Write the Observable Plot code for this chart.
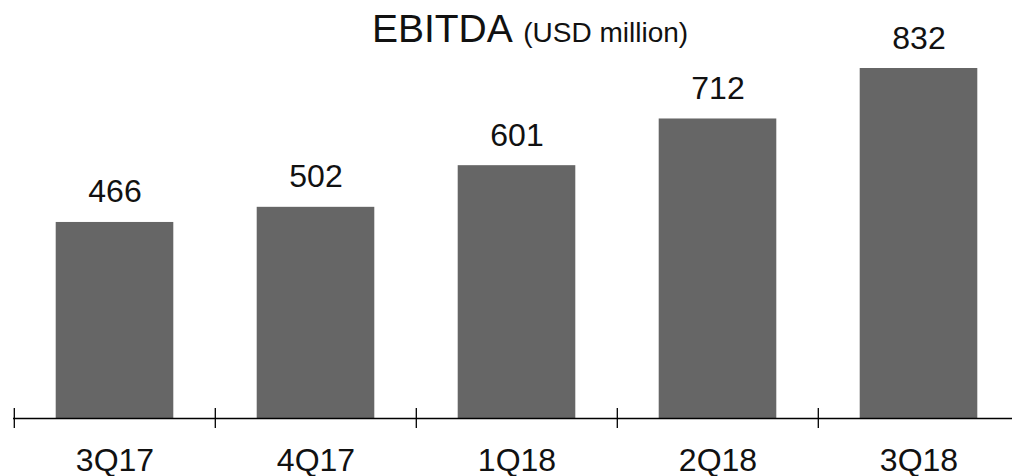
<!DOCTYPE html>
<html>
<head>
<meta charset="utf-8">
<script src="https://cdn.jsdelivr.net/npm/d3@7"></script>
<script src="https://cdn.jsdelivr.net/npm/@observablehq/plot@0.6"></script>
<style>
  html, body { margin: 0; padding: 0; background: #fff; }
  #wrap { position: relative; width: 1012px; height: 476px; font-family: "Liberation Sans", Arial, sans-serif; }
  #title { position: absolute; top: 9px; left: 0; width: 1012px; text-align: center; padding-left: 48px; box-sizing: border-box;
           line-height: 39px; color: #111; white-space: nowrap; }
  #title .main { font-size: 39px; }
  #title .sub { font-size: 28px; margin-left: 6px; }
  #chart { position: absolute; top: 0; left: 0; }
</style>
</head>
<body>
<div id="wrap">
  <div id="chart"></div>
  <div id="title"><span class="main">EBITDA</span> <span class="sub">(USD million)</span></div>
</div>
<script>
const quarters = ["3Q17", "4Q17", "1Q18", "2Q18", "3Q18"];
const ebitda = [466, 502, 601, 712, 832];

const data = quarters.map((q, i) => ({quarter: q, value: ebitda[i]}));

const xRange = [13, 1020];
const step = (xRange[1] - xRange[0]) / quarters.length;
const barWidth = 118;
const inset = (step - barWidth) / 2;

const chart = Plot.plot({
  width: 1012,
  height: 476,
  marginTop: 0, marginBottom: 0, marginLeft: 13, marginRight: 0,
  style: {fontFamily: "Liberation Sans, Arial, sans-serif", background: "white", overflow: "visible"},
  x: {domain: quarters, range: xRange, padding: 0, axis: null},
  y: {domain: [0, 832], range: [418, 68], axis: null},
  marks: [
    Plot.barY(data, {x: "quarter", y: "value", fill: "#666666", insetLeft: inset, insetRight: inset}),
    Plot.text(data, {x: "quarter", y: "value", text: d => String(d.value), lineAnchor: "bottom", dy: -20, fontSize: 32, fill: "#111"}),
    Plot.ruleY([0], {stroke: "#000", strokeWidth: 1.3}),
    Plot.ruleX(quarters, {x: d => d, dx: -step / 2, y1: 0, y2: 0, insetTop: -10, insetBottom: -10, stroke: "#000", strokeWidth: 1.3}),
    Plot.text(quarters, {x: d => d, y: 0, text: d => d, lineAnchor: "bottom", dy: 52, fontSize: 32, fill: "#111"})
  ]
});
document.getElementById("chart").appendChild(chart);
</script>
</body>
</html>
